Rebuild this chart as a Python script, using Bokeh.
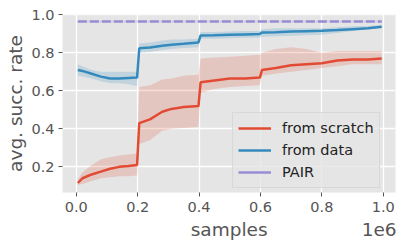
from bokeh.plotting import figure
from bokeh.models import Range1d, FixedTicker, Legend, LegendItem, ColumnDataSource, AllLabels
from bokeh.embed import file_html
from bokeh.resources import INLINE

samples = [5000, 20000, 50000, 80000, 110000, 140000, 170000, 198000, 205000, 240000, 280000, 310000,
           350000, 398000, 405000, 450000, 500000, 550000, 598000, 605000, 650000, 700000, 750000,
           800000, 850000, 900000, 950000, 995000]

scratch_mean = [0.115, 0.14, 0.16, 0.175, 0.19, 0.20, 0.205, 0.21, 0.43, 0.45, 0.49, 0.505, 0.515, 0.52,
                0.645, 0.655, 0.665, 0.665, 0.67, 0.71, 0.72, 0.735, 0.74, 0.745, 0.76, 0.765, 0.765, 0.77]
scratch_low = [0.105, 0.11, 0.125, 0.14, 0.145, 0.15, 0.15, 0.155, 0.32, 0.34, 0.39, 0.40, 0.405, 0.41,
               0.59, 0.61, 0.62, 0.625, 0.63, 0.68, 0.69, 0.70, 0.71, 0.72, 0.73, 0.74, 0.74, 0.74]
scratch_high = [0.135, 0.17, 0.21, 0.24, 0.25, 0.26, 0.265, 0.27, 0.62, 0.63, 0.66, 0.665, 0.68, 0.685,
                0.77, 0.775, 0.78, 0.785, 0.79, 0.80, 0.82, 0.83, 0.82, 0.80, 0.81, 0.81, 0.81, 0.81]

data_mean = [0.71, 0.705, 0.69, 0.675, 0.665, 0.665, 0.668, 0.67, 0.824, 0.828, 0.838, 0.843, 0.848, 0.855,
             0.892, 0.893, 0.895, 0.897, 0.899, 0.907, 0.908, 0.912, 0.914, 0.916, 0.92, 0.925, 0.93, 0.937]
data_low = [0.68, 0.675, 0.665, 0.65, 0.64, 0.64, 0.635, 0.625, 0.80, 0.805, 0.815, 0.82, 0.825, 0.83,
            0.875, 0.875, 0.877, 0.88, 0.88, 0.885, 0.888, 0.89, 0.893, 0.895, 0.905, 0.915, 0.925, 0.93]
data_high = [0.74, 0.73, 0.71, 0.70, 0.70, 0.70, 0.70, 0.70, 0.85, 0.855, 0.865, 0.87, 0.87, 0.875,
             0.91, 0.91, 0.912, 0.915, 0.915, 0.925, 0.93, 0.93, 0.93, 0.93, 0.935, 0.94, 0.942, 0.945]

pair_x = [5000, 995000]
pair_mean = 0.965
pair_low = 0.958
pair_high = 0.972

x_ticks = [0, 200000, 400000, 600000, 800000, 1000000]
x_tick_labels = ["0.0", "0.2", "0.4", "0.6", "0.8", "1.0"]
x_title = "samples"
x_offset_text = "1e6"
y_ticks = [0.2, 0.4, 0.6, 0.8, 1.0]
y_tick_labels = ["0.2", "0.4", "0.6", "0.8", "1.0"]

RED = "#E24A33"
BLUE = "#348ABD"
PURPLE = "#988ED5"
GRAY = "#555555"
FONT = "DejaVu Sans"
NBSP = "\u00a0"

p = figure(width=407, height=245, output_backend="svg", toolbar_location=None,
           x_range=Range1d(-45000, 1040000), y_range=Range1d(0.065, 1.002),
           min_border_left=62, min_border_top=14, min_border_right=12, min_border_bottom=53)
p.background_fill_color = "#E5E5E5"
p.outline_line_color = None
p.border_fill_color = "white"

for g in (p.xgrid[0], p.ygrid[0]):
    g.grid_line_color = "white"
    g.grid_line_width = 1.3
p.xgrid.ticker = FixedTicker(ticks=x_ticks)
p.ygrid.ticker = FixedTicker(ticks=y_ticks)

xa = p.xaxis[0]
ya = p.yaxis[0]

for ax in (xa, ya):
    ax.axis_line_color = None
    ax.major_tick_line_color = GRAY
    ax.major_tick_in = 0
    ax.major_tick_out = 4
    ax.minor_tick_line_color = None
    ax.major_label_text_color = GRAY
    ax.major_label_text_font = FONT
    ax.major_label_text_font_size = "14.5px"
    ax.axis_label_text_color = GRAY
    ax.axis_label_text_font = FONT
    ax.axis_label_text_font_size = "18.5px"
    ax.axis_label_text_font_style = "normal"
    ax.major_label_policy = AllLabels()

xa.ticker = FixedTicker(ticks=x_ticks)
xa.major_label_overrides = dict(zip(x_ticks, x_tick_labels))
xa.major_label_standoff = 5
# axis title and the offset text "1e6" share one line, as in the reference
xa.axis_label = NBSP * 22 + x_title + NBSP * 16 + x_offset_text
xa.axis_label_standoff = 4

ya.ticker = FixedTicker(ticks=y_ticks)
ya.major_label_overrides = dict(zip(y_ticks, y_tick_labels))
ya.axis_label = "avg. succ. rate"
ya.major_label_standoff = 4
ya.axis_label_standoff = 2

src = ColumnDataSource(dict(x=samples, sm=scratch_mean, sl=scratch_low, sh=scratch_high,
                            dm=data_mean, dl=data_low, dh=data_high))

p.varea(x="x", y1="sl", y2="sh", source=src, fill_color=RED, fill_alpha=0.2)
p.varea(x="x", y1="dl", y2="dh", source=src, fill_color=BLUE, fill_alpha=0.2)
p.varea(x=pair_x, y1=[pair_low] * 2, y2=[pair_high] * 2, fill_color=PURPLE, fill_alpha=0.2)

r_s = p.line(x="x", y="sm", source=src, line_color=RED, line_width=2.5)
r_d = p.line(x="x", y="dm", source=src, line_color=BLUE, line_width=2.5)
p.line(x=pair_x, y=[pair_mean] * 2, line_color=PURPLE, line_width=2.5, line_dash="9 3")
r_p = p.line(x=[float("nan")], y=[float("nan")], line_color=PURPLE, line_width=2.5)

legend = Legend(items=[LegendItem(label="from scratch", renderers=[r_s]),
                       LegendItem(label="from data", renderers=[r_d]),
                       LegendItem(label="PAIR", renderers=[r_p])],
                location=(170, 4))
legend.label_text_font = FONT
legend.label_text_font_size = "14.5px"
legend.label_text_color = "#222222"
legend.background_fill_color = "#E5E5E5"
legend.background_fill_alpha = 0.8
legend.border_line_color = "#CCCCCC"
legend.border_line_width = 1
legend.glyph_width = 33
legend.glyph_height = 20
legend.label_height = 20
legend.label_standoff = 11
legend.spacing = 2
legend.padding = 5
legend.margin = 0
p.add_layout(legend, "center")

open("out.html", "w").write(file_html(p, INLINE))
